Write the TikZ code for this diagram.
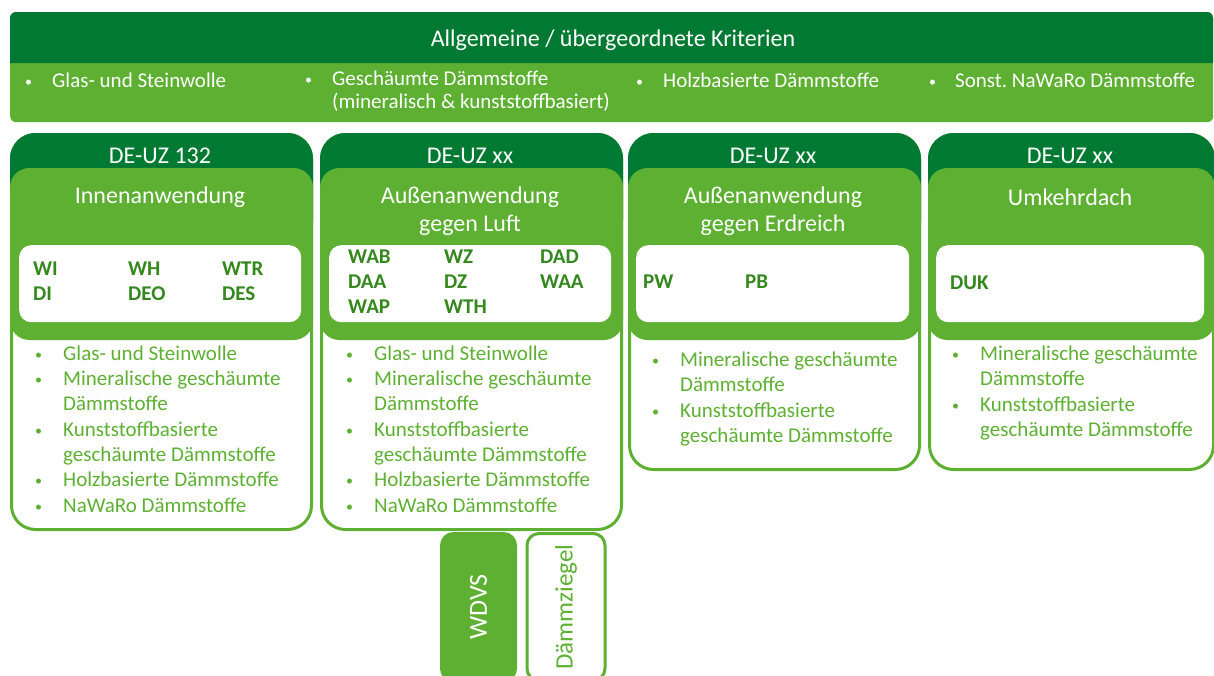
\documentclass[tikz,border=0pt]{standalone}
\usepackage{fontspec}
\setmainfont{Carlito}
\frenchspacing
\definecolor{darkg}{RGB}{0,122,50}
\definecolor{lightg}{RGB}{94,176,50}
\definecolor{codeg}{RGB}{52,136,30}
\newcommand\dotb{\raisebox{1pt}{\fontsize{14}{14}\selectfont •}}
\newcommand\bu{\makebox[28pt][l]{\dotb}}
\newcommand\tbu{\makebox[27pt][l]{\dotb}}
\newcommand\ind{\hspace*{28pt}}
\begin{document}
\begin{tikzpicture}[x=1pt,y=-1pt,
  colframe/.style={draw=lightg, line width=3pt, fill=white, rounded corners=24pt, inner sep=0, anchor=north west},
  hdr/.style={draw=darkg, line width=3pt, fill=darkg, rounded corners=24pt, inner sep=0, anchor=north west, minimum height=110pt},
  band/.style={draw=lightg, line width=3pt, fill=lightg, rounded corners=18pt, inner sep=0, anchor=north west, minimum height=169pt},
  wbox/.style={fill=white, rounded corners=12pt, inner sep=0, anchor=north west, minimum height=77pt},
  hdrtext/.style={text=white, font=\fontsize{24}{28}\selectfont, inner sep=0},
  subtext/.style={text=white, font=\fontsize{24}{28}\selectfont, inner sep=0, align=center},
  code/.style={text=codeg, font=\bfseries\fontsize{21}{25}\selectfont, inner sep=0, anchor=west},
  lst/.style={text=lightg, font=\fontsize{21}{25.3}\selectfont, inner sep=0, anchor=west, align=left},
  topitem/.style={text=white, font=\fontsize{21}{23}\selectfont, inner sep=0, anchor=west, align=left},
  vbox/.style={rounded corners=12pt, inner sep=0, line width=3pt, minimum width=147pt, rotate=90}
]
\useasboundingbox (0,0) rectangle (1214,675);
\clip (0,0) rectangle (1214,675);
\fill[white] (0,0) rectangle (1214,675);

% top bar
\node[fill=lightg, rounded corners=6pt, inner sep=0, anchor=north west, minimum width=1203pt, minimum height=110pt] (topbar) at (10,12) {};
\fill[darkg] (10,63) [rounded corners=6pt] -- (10,12) -- (1213,12) [sharp corners] -- (1213,63) -- cycle;
\node[text=white, font=\fontsize{24}{28}\selectfont, inner sep=0] (title) at (613,40) {Allgemeine / übergeordnete Kriterien};
\node[topitem] (g1) at (25,80) {\tbu Glas- und Steinwolle};
\node[topitem] (g2) at (305,91.5) {\tbu Geschäumte Dämmstoffe\\\hspace*{27pt}(mineralisch \& kunststoffbasiert)};
\node[topitem] (g3) at (636,80) {\tbu Holzbasierte Dämmstoffe};
\node[topitem] (g4) at (929,80) {\makebox[26pt][l]{\dotb}Sonst. NaWaRo Dämmstoffe};

% column 1
\node[colframe, minimum width=300pt, minimum height=395pt] (f1) at (10,133) {};
\node[hdr, minimum width=300pt] (h1) at (10,133) {};
\node[band, minimum width=300pt] (b1) at (10,168) {};
\node[wbox, minimum width=282pt] (w1) at (19,245) {};
\node[hdrtext] (t1) at (160,156) {DE-UZ 132};
\node[subtext] (s1) at (160,197) {Innenanwendung};
\node[code] (k1) at (33,283) {\begin{tabular}{@{}p{95pt}@{}p{94pt}@{}l@{}}WI&WH&WTR\\DI&DEO&DES\end{tabular}};
\node[lst] (l1) at (35,429) {\bu Glas- und Steinwolle\\\bu Mineralische geschäumte\\\ind Dämmstoffe\\\bu Kunststoffbasierte\\\ind geschäumte Dämmstoffe\\\bu Holzbasierte Dämmstoffe\\\bu NaWaRo Dämmstoffe};

% column 2
\node[colframe, minimum width=300pt, minimum height=395pt] (f2) at (320,133) {};
\node[hdr, minimum width=300pt] (h2) at (320,133) {};
\node[band, minimum width=300pt] (b2) at (320,168) {};
\node[wbox, minimum width=282pt] (w2) at (329,245) {};
\node[hdrtext] (t2) at (470,156) {DE-UZ xx};
\node[subtext] (s2) at (470,211) {Außenanwendung\\gegen Luft};
\node[code] (k2) at (348,283) {\begin{tabular}{@{}p{96pt}@{}p{96pt}@{}l@{}}WAB&WZ&DAD\\DAA&DZ&WAA\\WAP&WTH&\end{tabular}};
\node[lst] (l2) at (346,429) {\bu Glas- und Steinwolle\\\bu Mineralische geschäumte\\\ind Dämmstoffe\\\bu Kunststoffbasierte\\\ind geschäumte Dämmstoffe\\\bu Holzbasierte Dämmstoffe\\\bu NaWaRo Dämmstoffe};

% column 3
\node[colframe, minimum width=290pt, minimum height=335pt] (f3) at (628,133) {};
\node[hdr, minimum width=290pt] (h3) at (628,133) {};
\node[band, minimum width=290pt] (b3) at (628,168) {};
\node[wbox, minimum width=273pt] (w3) at (636,245) {};
\node[hdrtext] (t3) at (773,156) {DE-UZ xx};
\node[subtext] (s3) at (773,211) {Außenanwendung\\gegen Erdreich};
\node[code] (k3) at (643,283) {\begin{tabular}{@{}p{102pt}@{}l@{}}PW&PB\end{tabular}};
\node[lst] (l3) at (652,399) {\bu Mineralische geschäumte\\\ind Dämmstoffe\\\bu Kunststoffbasierte\\\ind geschäumte Dämmstoffe};

% column 4
\node[colframe, minimum width=284pt, minimum height=335pt] (f4) at (928,133) {};
\node[hdr, minimum width=284pt] (h4) at (928,133) {};
\node[band, minimum width=284pt] (b4) at (928,168) {};
\node[wbox, minimum width=268pt] (w4) at (936,245) {};
\node[hdrtext] (t4) at (1070,156) {DE-UZ xx};
\node[subtext] (s4) at (1070,197) {Umkehrdach};
\node[code] (k4) at (950,283) {DUK};
\node[lst] (l4) at (952,393) {\bu Mineralische geschäumte\\\ind Dämmstoffe\\\bu Kunststoffbasierte\\\ind geschäumte Dämmstoffe};

% bottom boxes
\node[vbox, fill=lightg, draw=lightg, minimum height=74pt, text=white, font=\fontsize{26}{30}\selectfont] (wdvs) at (478.5,607) {WDVS};
\node[vbox, fill=white, draw=lightg, minimum height=78pt, text=lightg, font=\fontsize{25}{30}\selectfont] (dz) at (566,607) {Dämmziegel};
\end{tikzpicture}
\end{document}
